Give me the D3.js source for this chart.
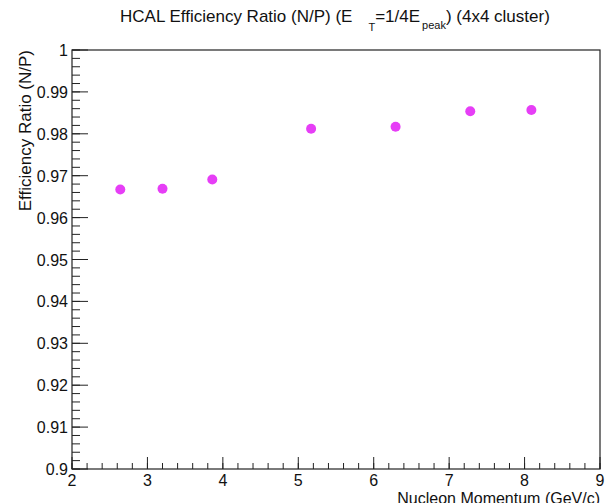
<!DOCTYPE html>
<html>
<head>
<meta charset="utf-8">
<script src="https://cdn.jsdelivr.net/npm/d3@7"></script>
<style>
  body { margin: 0; background: #fff; }
  svg { font-family: "Liberation Sans", Arial, sans-serif; }
</style>
</head>
<body>
<svg id="chart" width="613" height="503"></svg>
<script>
// data
const momentum = [2.64, 3.20, 3.86, 5.17, 6.29, 7.28, 8.09];
const effRatio = [0.9667, 0.9669, 0.9691, 0.9812, 0.9817, 0.9854, 0.9857];

const xTicks = [2, 3, 4, 5, 6, 7, 8, 9];
const yTicks = [0.9, 0.91, 0.92, 0.93, 0.94, 0.95, 0.96, 0.97, 0.98, 0.99, 1];

///// SET UP /////
var margin = {top: 50, right: 13, bottom: 34, left: 72},
    width = 613 - margin.left - margin.right,
    height = 503 - margin.top - margin.bottom;

var svg = d3.select("#chart");
var g = svg.append("g")
    .attr("transform", "translate(" + margin.left + "," + margin.top + ")");

let x = d3.scaleLinear().domain([2, 9]).range([0, width]);
let y = d3.scaleLinear().domain([0.9, 1]).range([height, 0]);

// minor ticks: 5 subdivisions per major
let xMinor = d3.range(2, 9.001, 0.2).map(v => +v.toFixed(2));
let yMinor = d3.range(0.9, 1.0001, 0.002).map(v => +v.toFixed(4));

///// AXES /////
// bottom axis: ticks point up into the plot
let xAxis = g.append("g").attr("transform", "translate(0," + height + ")");
xAxis.selectAll("line.minor")
    .data(xMinor)
    .enter().append("line")
    .attr("x1", d => x(d)).attr("x2", d => x(d))
    .attr("y1", 0).attr("y2", -6)
    .attr("stroke", "#222").attr("stroke-width", 1);
xAxis.selectAll("line.major")
    .data(xTicks)
    .enter().append("line")
    .attr("x1", d => x(d)).attr("x2", d => x(d))
    .attr("y1", 0).attr("y2", -12)
    .attr("stroke", "#222").attr("stroke-width", 1);
xAxis.selectAll("text")
    .data(xTicks)
    .enter().append("text")
    .attr("x", d => x(d))
    .attr("y", 17)
    .attr("text-anchor", "middle")
    .style("font-size", "16px")
    .attr("fill", "#111")
    .text(d => d);

// left axis: ticks point right into the plot
let yAxis = g.append("g");
yAxis.selectAll("line.minor")
    .data(yMinor)
    .enter().append("line")
    .attr("x1", 0).attr("x2", 8)
    .attr("y1", d => y(d)).attr("y2", d => y(d))
    .attr("stroke", "#222").attr("stroke-width", 1);
yAxis.selectAll("line.major")
    .data(yTicks)
    .enter().append("line")
    .attr("x1", 0).attr("x2", 16)
    .attr("y1", d => y(d)).attr("y2", d => y(d))
    .attr("stroke", "#222").attr("stroke-width", 1);
yAxis.selectAll("text")
    .data(yTicks)
    .enter().append("text")
    .attr("x", -4)
    .attr("y", d => y(d) + 6)
    .attr("text-anchor", "end")
    .style("font-size", "16px")
    .attr("fill", "#111")
    .text(d => d);

// frame
g.append("rect")
    .attr("x", 0).attr("y", 0)
    .attr("width", width).attr("height", height)
    .attr("fill", "none")
    .attr("stroke", "#222")
    .attr("stroke-width", 1.2);

///// POINTS /////
g.selectAll("circle")
    .data(momentum)
    .enter().append("circle")
    .attr("cx", (d, i) => x(d))
    .attr("cy", (d, i) => y(effRatio[i]))
    .attr("r", 5)
    .attr("fill", "#e63ef6");

///// LABELS /////
let title = svg.append("text")
    .attr("x", 120)
    .attr("y", 22)
    .attr("text-anchor", "start")
    .style("font-size", "17px")
    .attr("fill", "#111");
title.append("tspan").text("HCAL Efficiency Ratio (N/P) (E");
title.append("tspan").attr("dx", 16).attr("dy", 9).style("font-size", "11px").text("T");
title.append("tspan").attr("dy", -9).text("=1/4E");
title.append("tspan").attr("dx", 2).attr("dy", 7).style("font-size", "11px").text("peak");
title.append("tspan").attr("dy", -7).text(") (4x4 cluster)");

svg.append("text")
    .attr("transform", "translate(31," + margin.top + ") rotate(-90)")
    .attr("text-anchor", "end")
    .style("font-size", "17px")
    .attr("fill", "#111")
    .text("Efficiency Ratio (N/P)");

svg.append("text")
    .attr("x", margin.left + width)
    .attr("y", 504)
    .attr("text-anchor", "end")
    .style("font-size", "16px")
    .attr("fill", "#111")
    .text("Nucleon Momentum (GeV/c)");
</script>
</body>
</html>
